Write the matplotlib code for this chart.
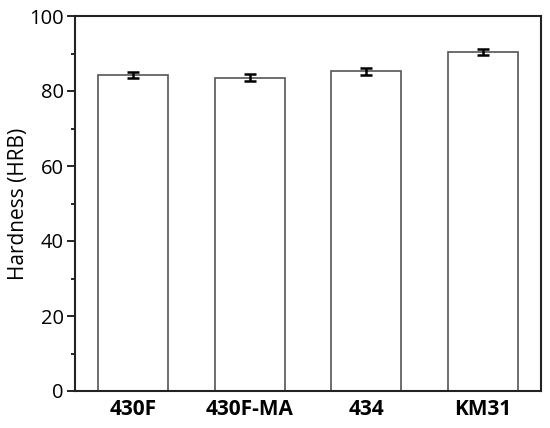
import matplotlib
matplotlib.use("Agg")
import matplotlib.pyplot as plt
from matplotlib.ticker import MultipleLocator

plt.rcParams['font.family'] = ['Open Sans', 'DejaVu Sans']

categories = ["430F", "430F-MA", "434", "KM31"]
hardness = [84.3, 83.6, 85.3, 90.4]
errors = [0.9, 0.9, 0.9, 0.8]

fig = plt.figure(figsize=(5.5, 4.28), dpi=100)
ax = fig.add_axes([75/550, 1 - 391/428, 466/550, 375/428])

x = list(range(len(categories)))
ax.bar(x, hardness, width=0.6, color="white", edgecolor="#555555", linewidth=1.2)
ax.errorbar(x, hardness, yerr=errors, fmt="none", ecolor="black",
            elinewidth=1.8, capsize=4, capthick=1.8)

ax.set_xlim(-0.5, 3.5)
ax.set_ylim(0, 100)
ax.set_xticks(x)
ax.set_xticklabels(categories, fontsize=15, fontweight="bold")
ax.yaxis.set_major_locator(MultipleLocator(20))
ax.yaxis.set_minor_locator(MultipleLocator(10))
ax.tick_params(axis="y", which="major", direction="out", length=6, width=1.2,
               labelsize=14.5, pad=2)
ax.tick_params(axis="y", which="minor", direction="out", length=3, width=1.2)
ax.tick_params(axis="x", length=0, pad=6)
ax.set_ylabel("Hardness (HRB)", fontsize=15, labelpad=0)
for s in ax.spines.values():
    s.set_linewidth(1.5)
    s.set_color("#222222")

fig.savefig("out.png", dpi=100)
